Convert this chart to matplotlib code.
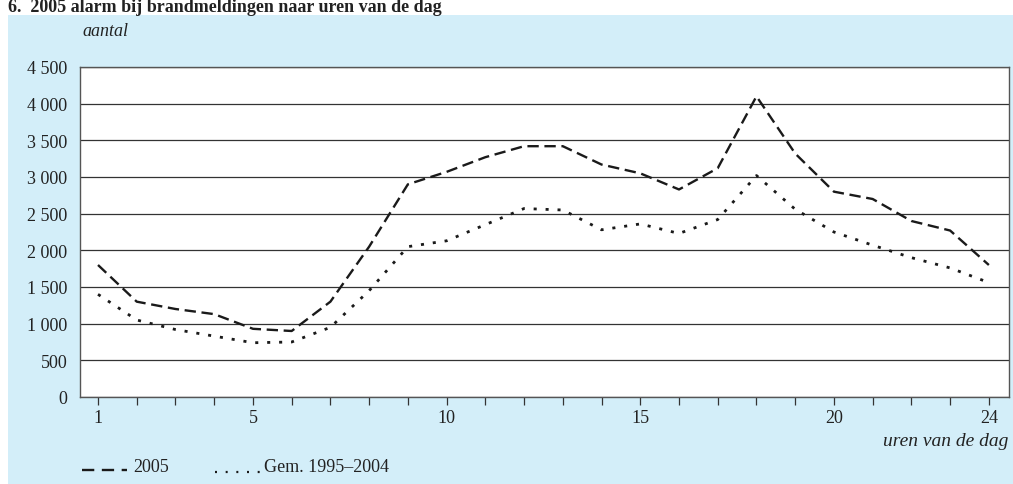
import matplotlib
matplotlib.use('Agg')
import matplotlib.pyplot as plt
from matplotlib.patches import Rectangle
from matplotlib.lines import Line2D
from matplotlib.ticker import FuncFormatter

# uren van de dag
hours = list(range(1, 25))
# 2005
alarm_2005 = [1800, 1300, 1200, 1130, 930, 900, 1300, 2050, 2900, 3070, 3270, 3420,
              3420, 3170, 3050, 2830, 3120, 4100, 3320, 2800, 2700, 2400, 2270, 1800]
# gemiddelde 1995-2004
alarm_gem = [1400, 1050, 920, 830, 740, 750, 950, 1450, 2050, 2130, 2350, 2570,
             2550, 2280, 2360, 2230, 2420, 3020, 2560, 2250, 2070, 1900, 1760, 1560]
xtick_labels = [1, 5, 10, 15, 20, 24]
yticks = [0, 500, 1000, 1500, 2000, 2500, 3000, 3500, 4000, 4500]

plt.rcParams['font.family'] = ['Liberation Serif', 'DejaVu Serif']

W, H = 1013, 485
fig = plt.figure(figsize=(W / 100, H / 100), dpi=100)
fig.patch.set_facecolor('white')

# blue panel
fig.patches.append(Rectangle((8 / W, 0), 1 - 8 / W, (H - 16) / H,
                             transform=fig.transFigure, facecolor='#d3eef9',
                             edgecolor='none', zorder=-10))

# title at the top
fig.text(8 / W, 1 - 12 / H, '6.  2005 alarm bij brandmeldingen naar uren van de dag',
         fontsize=13, fontweight='bold', color='#222222', va='baseline', ha='left')

ax = fig.add_axes([80 / W, 1 - 398 / H, (1009 - 80) / W, (398 - 68) / H])
ax.set_zorder(1)
ax.set_facecolor('white')

ax.plot(hours, alarm_2005, color='#1a1a1a', lw=1.7, dashes=(4.8, 2.4))
ax.plot(hours, alarm_gem, color='#1a1a1a', lw=2.0, dashes=(1.1, 3.2))

ax.set_xlim(0.535, 24.52)
ax.set_ylim(0, 4500)
ax.set_yticks(yticks)
ax.yaxis.set_major_formatter(FuncFormatter(lambda v, p: f'{int(v):,}'.replace(',', ' ')))
ax.set_xticks(hours)
ax.set_xticklabels([str(h) if h in xtick_labels else '' for h in hours])

ax.grid(axis='y', color='#333333', lw=0.9)
ax.set_axisbelow(True)
for s in ax.spines.values():
    s.set_color('#555555')
    s.set_linewidth(1.0)

ax.tick_params(axis='y', length=0, pad=9, labelsize=13, colors='#222222')
ax.tick_params(axis='x', length=6, width=0.9, color='#333333', direction='out',
               labelsize=13, labelcolor='#222222', pad=3)

fig.text(82 / W, 1 - 31 / H, 'aantal', fontsize=13, style='italic', color='#222222',
         va='center', ha='left')
fig.text(1008 / W, 1 - 442 / H, 'uren van de dag', fontsize=14, style='italic',
         color='#222222', va='center', ha='right')

# legend
ly = 1 - 468 / H
fig.add_artist(Line2D([82 / W, 127 / W], [ly - 3 / H, ly - 3 / H], transform=fig.transFigure,
                      color='#1a1a1a', lw=1.7, dashes=(5.2, 3.2)))
fig.text(133 / W, ly, '2005', fontsize=13, color='#222222', va='center', ha='left')
fig.add_artist(Line2D([215 / W, 262 / W], [ly - 5 / H, ly - 5 / H], transform=fig.transFigure,
                      color='#1a1a1a', lw=1.6, dashes=(0.9, 3.9)))
fig.text(264 / W, ly, 'Gem. 1995\u20132004', fontsize=13, color='#222222', va='center', ha='left')

fig.savefig('out.png', dpi=100)
